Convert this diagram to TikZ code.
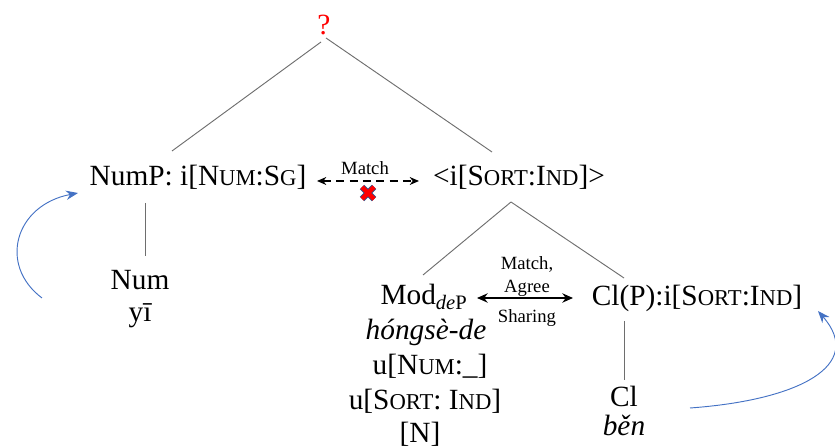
\documentclass[tikz,border=0pt]{standalone}
\usepackage{fontspec}
\setmainfont{Liberation Serif}
\usetikzlibrary{arrows.meta}

\definecolor{arcblue}{RGB}{68,114,196}
\definecolor{treegray}{RGB}{110,110,110}

% fake small capitals for feature names
\newcommand{\fsc}[1]{{\fontsize{17}{17}\selectfont #1}}

\tikzset{
  lbl/.style={font=\fontsize{22}{24}\selectfont, inner sep=0pt, anchor=base},
  tag/.style={font=\fontsize{14}{15}\selectfont, inner sep=0pt, anchor=base},
  branch/.style={draw=treegray, line width=0.7pt},
  movearc/.style={draw=arcblue, line width=0.7pt, -{Stealth[length=9pt,width=7pt]}},
}

\begin{document}
\begin{tikzpicture}[x=0.75pt,y=-0.75pt]
\useasboundingbox (0,0) rectangle (835,448);
\clip (0,0) rectangle (835,448);

% top
\node[lbl, text=red] (q) at (324,35) {?};
\coordinate (q-l) at (321,42);
\coordinate (q-r) at (326,38);

% left branch
\node[lbl] (nump) at (198,186) {NumP: i[N\fsc{UM}:S\fsc{G}]};
\coordinate (nump-top) at (172,151);
\coordinate (nump-bot) at (145,203);
\node[lbl] (num) at (140,290) {Num};
\node[lbl] (yi) at (140,322) {yī};
\coordinate (num-top) at (145,256);

% right branch
\node[lbl] (sort) at (519,186) {<i[S\fsc{ORT}:I\fsc{ND}]>};
\coordinate (sort-top) at (492,152);
\coordinate (sort-bot) at (511,202);

% Mod_deP and its features
\node[lbl] (mod) at (424,305) {Mod\textsubscript{\textit{de}P}};
\node[lbl] (modword) at (426,340) {\textit{hóngsè-de}};
\node[lbl] (modnum) at (430,375) {u[N\fsc{UM}:\_]};
\node[lbl] (modsort) at (425,410) {u[S\fsc{ORT}: I\fsc{ND}]};
\node[lbl] (modn) at (420,443) {[N]};
\coordinate (mod-top) at (423,275);

% classifier phrase
\node[lbl] (clp) at (697,306) {Cl(P):i[S\fsc{ORT}:I\fsc{ND}]};
\coordinate (clp-top) at (624,278);
\coordinate (clp-bot) at (624,321);
\node[lbl] (cl) at (624,407) {Cl};
\node[lbl] (ben) at (624,436) {\textit{běn}};
\coordinate (cl-top) at (624,380);

% tree lines
\draw[branch] (q-l) -- (nump-top);
\draw[branch] (q-r) -- (sort-top);
\draw[branch] (nump-bot) -- (num-top);
\draw[branch] (sort-bot) -- (mod-top);
\draw[branch] (sort-bot) -- (clp-top);
\draw[branch] (clp-bot) -- (cl-top);

% failed match
\coordinate (m-l) at (317,181);
\coordinate (m-r) at (419,181);
\draw[line width=0.9pt, dash pattern=on 6pt off 4pt,
  {Stealth[length=7pt,width=6pt]}-{Stealth[length=7pt,width=6pt]}] (m-l) -- (m-r);
\node[tag] (matchtop) at (365,175) {Match};
\begin{scope}[shift={(368,193)}]
  \draw[arcblue!70!black, line width=4.6pt] (-6,-6) -- (6,6) (6,-6) -- (-6,6);
  \draw[red, line width=3.2pt] (-6,-6) -- (6,6) (6,-6) -- (-6,6);
\end{scope}

% agreement between Mod and Cl
\coordinate (a-l) at (477,298);
\coordinate (a-r) at (573,298);
\draw[line width=1.1pt, {Stealth[length=8pt,width=7pt]}-{Stealth[length=8pt,width=7pt]}] (a-l) -- (a-r);
\node[tag] (agr1) at (527,270) {Match,};
\node[tag] (agr2) at (527,293) {Agree};
\node[tag] (agr3) at (527,323) {Sharing};

% movement arcs
\coordinate (arcl-s) at (42,298);
\coordinate (arcl-e) at (78,193);
\draw[movearc] (arcl-s) .. controls (-2,265) and (15,205) .. (arcl-e);
\coordinate (arcr-s) at (690,408);
\coordinate (arcr-e) at (818,311);
\draw[movearc] (arcr-s) .. controls (800,400) and (865,365) .. (arcr-e);

\end{tikzpicture}
\end{document}
